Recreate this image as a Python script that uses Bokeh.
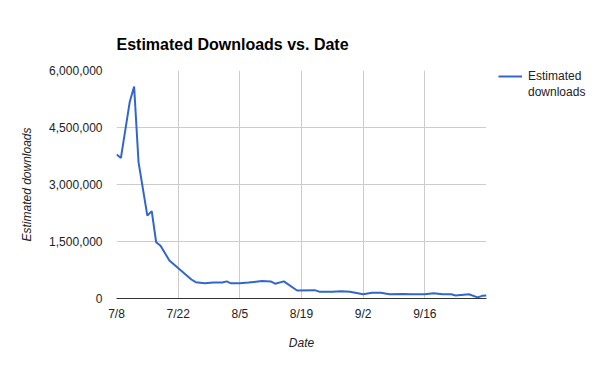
import pandas as pd
from bokeh.plotting import figure
from bokeh.models import Range1d, FixedTicker, NumeralTickFormatter, Legend, LegendItem
from bokeh.embed import file_html
from bokeh.resources import INLINE

# Data
start_date = "2013-07-08"
dates = ["2013-07-08", "2013-07-09", "2013-07-11", "2013-07-12", "2013-07-13",
         "2013-07-15", "2013-07-16", "2013-07-17", "2013-07-18", "2013-07-20",
         "2013-07-25", "2013-07-26", "2013-07-28", "2013-07-30", "2013-08-01",
         "2013-08-02", "2013-08-03", "2013-08-05", "2013-08-07", "2013-08-10",
         "2013-08-12", "2013-08-13", "2013-08-15", "2013-08-18", "2013-08-22",
         "2013-08-23", "2013-08-26", "2013-08-28", "2013-08-30", "2013-09-02",
         "2013-09-04", "2013-09-06", "2013-09-08", "2013-09-11", "2013-09-13",
         "2013-09-16", "2013-09-18", "2013-09-20", "2013-09-22", "2013-09-23",
         "2013-09-26", "2013-09-28", "2013-09-29", "2013-09-30"]
downloads = [3790000, 3700000, 5170000, 5580000, 3590000,
             2180000, 2300000, 1480000, 1390000, 1000000,
             500000, 430000, 400000, 420000, 420000,
             450000, 400000, 400000, 420000, 460000,
             450000, 390000, 450000, 210000, 220000,
             180000, 180000, 190000, 180000, 110000,
             150000, 150000, 110000, 120000, 110000,
             110000, 140000, 110000, 110000, 80000,
             110000, 30000, 70000, 80000]

x_tick_days = [0, 14, 28, 42, 56, 70]
x_tick_labels = ["7/8", "7/22", "8/5", "8/19", "9/2", "9/16"]
y_ticks = [0, 1500000, 3000000, 4500000, 6000000]

title_text = "Estimated Downloads vs. Date"
series_name_lines = ["Estimated", "downloads"]

days = [(pd.Timestamp(d) - pd.Timestamp(start_date)).days for d in dates]

FONT = "Liberation Sans"
TXT = "#222222"

p = figure(frame_width=370, frame_height=228, output_backend="svg", toolbar_location=None,
           x_range=Range1d(0, days[-1]), y_range=Range1d(0, 6000000),
           min_border_left=116, min_border_right=113, min_border_top=70, min_border_bottom=70,
           title=title_text)
p.outline_line_color = None
p.background_fill_color = "white"
p.border_fill_color = "white"

p.title.text_font = FONT
p.title.text_font_size = "16px"
p.title.text_font_style = "bold"
p.title.text_color = "#000000"
p.title.align = "left"
p.title.standoff = 36

r = p.line(days, downloads, line_color="#3366cc", line_width=2)
# invisible renderer used only to carry the second line of the legend label
r_blank = p.line([], [], line_alpha=0)

# axes
xa = p.xaxis[0]
xa.ticker = FixedTicker(ticks=x_tick_days)
xa.major_label_overrides = {d: l for d, l in zip(x_tick_days, x_tick_labels)}
xa.axis_line_color = "#333333"
xa.major_tick_line_color = None
xa.minor_tick_line_color = None
xa.major_tick_out = 0
xa.major_label_standoff = 8
xa.major_label_text_font = FONT
xa.major_label_text_font_size = "12px"
xa.major_label_text_color = TXT
xa.axis_label = "Date"
xa.axis_label_text_font = FONT
xa.axis_label_text_font_size = "12px"
xa.axis_label_text_font_style = "italic"
xa.axis_label_text_color = TXT
xa.axis_label_standoff = 12

ya = p.yaxis[0]
ya.ticker = FixedTicker(ticks=y_ticks)
ya.formatter = NumeralTickFormatter(format="0,0")
ya.axis_line_color = None
ya.major_tick_line_color = None
ya.minor_tick_line_color = None
ya.major_tick_out = 0
ya.major_label_standoff = 14
ya.major_label_text_font = FONT
ya.major_label_text_font_size = "12px"
ya.major_label_text_color = TXT
ya.axis_label = "Estimated downloads"
ya.axis_label_text_font = FONT
ya.axis_label_text_font_size = "12px"
ya.axis_label_text_font_style = "italic"
ya.axis_label_text_color = TXT
ya.axis_label_standoff = 12

p.xgrid.ticker = FixedTicker(ticks=x_tick_days)
p.ygrid.ticker = FixedTicker(ticks=y_ticks)
p.xgrid.grid_line_color = "#cccccc"
p.ygrid.grid_line_color = "#cccccc"

legend = Legend(items=[LegendItem(label=series_name_lines[0], renderers=[r]),
                       LegendItem(label=series_name_lines[1], renderers=[r_blank])],
                location=(12, 198), border_line_color=None, background_fill_alpha=0,
                label_text_font=FONT, label_text_font_size="12px", label_text_color=TXT,
                glyph_width=24, glyph_height=16, label_height=16, label_standoff=6,
                spacing=0, padding=0, margin=0)
p.add_layout(legend, "right")

open("out.html", "w").write(file_html(p, INLINE))
